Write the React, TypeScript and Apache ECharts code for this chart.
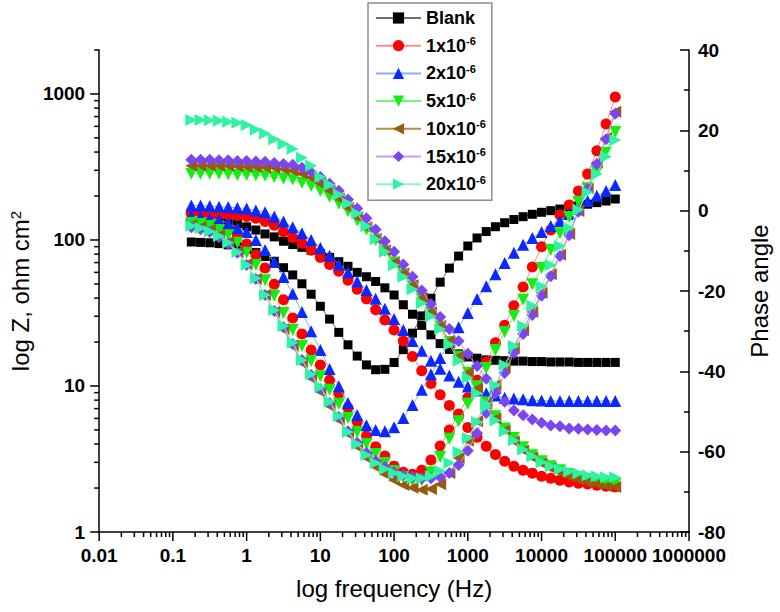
import React, { useEffect, useRef } from 'react';
import * as echarts from 'echarts';

const FONT = '"Liberation Sans", Arial, Helvetica, sans-serif';

// Frequencies (Hz)
const FREQ = [0.1778, 0.2371, 0.3162, 0.4217, 0.5623, 0.7499, 1, 1.334, 1.778, 2.371, 3.162, 4.217, 5.623, 7.499,
  10, 13.34, 17.78, 23.71, 31.62, 42.17, 56.23, 74.99, 100, 133.4, 177.8, 237.1, 316.2, 421.7, 562.3, 749.9,
  1000, 1334, 1778, 2371, 3162, 4217, 5623, 7499, 10000, 13340, 17780, 23710, 31620, 42170, 56230, 74990, 100000];

// |Z| (ohm cm2)
const Z_BLANK = [150, 148, 145, 141, 135, 129, 123, 117, 110, 105, 98, 93, 89, 85, 81, 76, 71, 66, 60, 56, 52, 47, 42, 36, 31, 26, 22.4, 19.5, 17.8, 16.6, 15.8, 15.5, 15.1, 15.0, 14.9, 14.8, 14.8, 14.7, 14.7, 14.6, 14.6, 14.6, 14.5, 14.5, 14.5, 14.5, 14.5];
const Z_1 = [152, 152, 151, 150, 148, 147, 145, 141, 134, 126, 114, 104, 95, 85, 76, 68, 61, 53, 46, 39.5, 33.3, 28.3, 24.2, 20.3, 15.9, 12.7, 10.4, 8.7, 7.35, 6.2, 5.2, 4.45, 3.86, 3.4, 3.05, 2.82, 2.65, 2.53, 2.41, 2.33, 2.26, 2.2, 2.16, 2.13, 2.09, 2.06, 2.03];
const Z_2 = [172, 172, 171, 169, 168, 166, 164, 159, 155, 145, 134, 122, 111, 100, 88, 78, 68, 60, 52, 45.5, 39.5, 33.8, 28.8, 24.2, 20.3, 17.4, 14.9, 13.1, 11.8, 10.7, 9.9, 9.3, 8.9, 8.6, 8.3, 8.2, 8.1, 8.0, 7.94, 7.9, 7.9, 7.9, 7.9, 7.9, 7.9, 7.9, 7.9];
const Z_5 = [284, 284, 284, 284, 282, 279, 279, 277, 275, 270, 264, 259, 247, 235, 217, 198, 178, 157, 136, 118, 100, 84, 70, 58, 48, 39.5, 31.6, 25.4, 20, 15.9, 12.3, 9.7, 7.7, 6.2, 5.12, 4.4, 3.8, 3.35, 3.05, 2.82, 2.65, 2.5, 2.37, 2.3, 2.23, 2.17, 2.13];
const Z_10 = [322, 322, 322, 322, 322, 320, 317, 317, 315, 312, 305, 298, 284, 267, 243, 217, 192, 166, 143, 122, 102, 85, 70, 59, 49, 40, 32, 25.8, 20.3, 15.9, 12.3, 9.6, 7.6, 6.0, 4.96, 4.17, 3.62, 3.24, 2.95, 2.73, 2.56, 2.41, 2.30, 2.19, 2.13, 2.06, 2.03];
const Z_15 = [354, 354, 354, 351, 351, 348, 348, 345, 343, 337, 332, 327, 312, 293, 270, 243, 217, 189, 164, 141, 118, 98, 83, 68, 56, 45, 36.5, 29.7, 24.6, 20.3, 16.6, 13.7, 11.2, 9.1, 7.8, 6.8, 6.3, 5.9, 5.6, 5.36, 5.3, 5.12, 5.1, 5.04, 5.0, 4.96, 4.96];
const Z_20 = [664, 664, 660, 655, 645, 635, 612, 570, 535, 490, 455, 421, 365, 322, 270, 239, 205, 178, 152, 124, 101, 83, 67, 56, 46, 37, 30, 24.6, 19.2, 14.9, 11.4, 8.9, 7.2, 5.8, 4.9, 4.24, 3.68, 3.3, 3.0, 2.82, 2.69, 2.6, 2.53, 2.45, 2.41, 2.37, 2.37];

// Phase angle (deg)
const P_BLANK = [-7.8, -7.9, -8.0, -8.2, -8.5, -9.0, -9.6, -10.4, -11.4, -12.6, -14.2, -16.0, -18.2, -20.8, -23.8, -27, -30.3, -33.4, -36.2, -38.4, -39.6, -39.5, -37.8, -34.6, -30.5, -26.2, -21.8, -17.8, -14.3, -11.3, -8.8, -6.8, -5.2, -4.0, -3.0, -2.2, -1.5, -0.9, -0.4, 0.0, 0.4, 0.8, 1.2, 1.6, 2.0, 2.4, 2.9];
const P_1 = [-2.3, -2.6, -3.1, -3.8, -4.8, -6.3, -8.3, -11.0, -14.3, -18.3, -22.2, -26.7, -30.7, -34.7, -38.4, -42.2, -45.6, -49.1, -52.6, -56.1, -58.8, -61.1, -63.6, -65.1, -65.6, -64.6, -62.1, -58.6, -54.6, -50.6, -46.6, -42.2, -37.7, -32.9, -28.5, -23.7, -19.0, -14.0, -9.0, -4.8, -1.1, 1.4, 4.9, 9.1, 14.9, 21.6, 28.3];
const P_2 = [-1.3, -1.6, -2.0, -2.3, -3.1, -4.3, -5.3, -7.3, -9.8, -12.8, -16.5, -20.7, -25.2, -30.0, -34.7, -39.4, -43.7, -47.9, -50.9, -53.4, -54.6, -54.9, -53.9, -51.6, -48.4, -44.6, -40.7, -36.7, -32.7, -29.0, -25.5, -22.0, -18.8, -15.8, -13.0, -10.5, -8.5, -6.8, -5.3, -3.8, -2.6, -0.8, 0.4, 2.4, 3.7, 4.9, 6.4];
const P_5 = [-3.1, -3.3, -3.8, -4.8, -6.1, -8.0, -10.5, -13.5, -17.3, -21.2, -25.5, -29.7, -33.7, -37.4, -41.2, -44.6, -48.1, -51.6, -55.1, -58.1, -60.6, -62.8, -64.8, -66.3, -67.3, -67.1, -65.1, -61.3, -56.8, -52.4, -48.1, -43.7, -39.2, -34.7, -30.2, -26.2, -22.2, -18.3, -14.3, -9.8, -5.6, -1.6, 2.2, 5.6, 9.6, 14.4, 19.6];
const P_10 = [-3.6, -4.1, -4.8, -6.1, -7.8, -10.3, -13.3, -17.0, -21.0, -25.2, -29.5, -33.7, -37.9, -41.7, -45.1, -48.6, -52.1, -55.6, -58.8, -61.6, -63.8, -65.6, -67.1, -68.3, -69.0, -69.5, -69.3, -68.1, -65.3, -61.6, -57.3, -52.4, -47.9, -43.4, -38.9, -34.2, -29.7, -25.2, -20.5, -15.8, -11.0, -5.8, -0.1, 5.6, 11.9, 18.1, 24.6];
const P_15 = [-4.1, -4.6, -5.3, -6.6, -8.3, -10.5, -13.5, -17.0, -21.0, -25.0, -29.0, -33.2, -37.2, -40.9, -44.4, -47.9, -51.4, -54.9, -57.8, -60.3, -62.3, -63.8, -65.1, -65.8, -66.3, -66.6, -66.6, -66.3, -65.3, -63.3, -59.8, -55.4, -50.4, -45.4, -40.4, -35.4, -30.7, -26.0, -21.2, -16.3, -11.3, -6.1, -0.3, 5.4, 11.6, 17.8, 24.1];
const P_20 = [-3.8, -4.3, -5.1, -6.3, -8.0, -10.3, -13.5, -16.8, -21.0, -24.7, -28.7, -32.9, -37.2, -40.7, -43.9, -47.6, -51.1, -55.1, -58.1, -60.8, -62.8, -64.3, -65.3, -66.1, -66.6, -66.6, -66.1, -64.8, -62.8, -60.1, -56.6, -52.6, -48.1, -43.4, -38.4, -33.7, -28.7, -23.7, -18.8, -13.5, -8.8, -4.3, 0.2, 4.6, 9.1, 13.4, 17.6];

const NAMES = ['Blank', '1x10-6', '2x10-6', '5x10-6', '10x10-6', '15x10-6', '20x10-6'];
const Z_SETS = [Z_BLANK, Z_1, Z_2, Z_5, Z_10, Z_15, Z_20];
const P_SETS = [P_BLANK, P_1, P_2, P_5, P_10, P_15, P_20];

// axis ticks
const X_DECADES = [0.01, 0.1, 1, 10, 100, 1000, 10000, 100000, 1000000];
const Y_DECADES = [1, 10, 100, 1000];
const MINOR_MULT = [2, 3, 4, 5, 6, 7, 8, 9];
const Y_TOP_MINOR = [2000];

const STYLES = [
  { color: '#000000', line: '#707070', symbol: 'rect', size: 9 },
  { color: '#ff0000', line: '#ff8a8a', symbol: 'circle', size: 11 },
  { color: '#0a28ff', line: '#86aefc', symbol: 'triangle', size: 12 },
  { color: '#14ee14', line: '#70fb70', symbol: 'path://M0,0L10,0L5,9Z', size: 12 },
  { color: '#9a5a0e', line: '#b98c48', symbol: 'path://M10,0L10,10L0,5Z', size: 12 },
  { color: '#7b46f0', line: '#b7a2f6', symbol: 'diamond', size: 12 },
  { color: '#2ff2a2', line: '#86f6c9', symbol: 'path://M0,0L0,10L10,5Z', size: 12 },
];

function isPow10(v: number) {
  const l = Math.log10(v);
  return Math.abs(l - Math.round(l)) < 1e-6;
}
function fmtNum(v: number) {
  return String(+Number(v).toPrecision(6));
}

export default function App() {
  const ref = useRef<HTMLDivElement>(null);
  useEffect(() => {
    if (!ref.current) return;
    const chart = echarts.init(ref.current, undefined, { renderer: 'svg' });

    const series: any[] = [];
    NAMES.forEach((name, i) => {
      const st = STYLES[i];
      const common = {
        name,
        type: 'line',
        symbol: st.symbol,
        symbolSize: st.size,
        showSymbol: true,
        itemStyle: { color: st.color },
        lineStyle: { color: st.line, width: 1 },
        emphasis: { disabled: true },
        z: 2 + i,
      };
      series.push({ ...common, xAxisIndex: 0, yAxisIndex: 0, data: FREQ.map((f, k) => [f, Z_SETS[i][k]]) });
      series.push({ ...common, xAxisIndex: 0, yAxisIndex: 1, data: FREQ.map((f, k) => [f, P_SETS[i][k]]) });
    });

    const xTicks: number[][] = [];
    X_DECADES.forEach((d, j) => {
      xTicks.push([d, 1, 9]);
      if (j < X_DECADES.length - 1) MINOR_MULT.forEach((m) => xTicks.push([d * m, 1, 5]));
    });
    const yTicks: number[][] = [];
    Y_DECADES.forEach((d, j) => {
      yTicks.push([0.01, d, 9]);
      if (j < Y_DECADES.length - 1) MINOR_MULT.forEach((m) => yTicks.push([0.01, d * m, 5]));
    });
    Y_TOP_MINOR.forEach((v) => yTicks.push([0.01, v, 5]));

    series.push({
      type: 'custom',
      silent: true,
      clip: false,
      z: 60,
      xAxisIndex: 0,
      yAxisIndex: 0,
      data: xTicks,
      renderItem: (_p: any, api: any) => {
        const p = api.coord([api.value(0), api.value(1)]);
        const len = api.value(2);
        return { type: 'line', shape: { x1: p[0], y1: p[1], x2: p[0], y2: p[1] + len }, style: { stroke: '#000', lineWidth: 1.5 } };
      },
    });
    series.push({
      type: 'custom',
      silent: true,
      clip: false,
      z: 60,
      xAxisIndex: 0,
      yAxisIndex: 0,
      data: yTicks,
      renderItem: (_p: any, api: any) => {
        const p = api.coord([api.value(0), api.value(1)]);
        const len = api.value(2);
        return { type: 'line', shape: { x1: p[0] - len, y1: p[1], x2: p[0], y2: p[1] }, style: { stroke: '#000', lineWidth: 1.5 } };
      },
    });

    const labelStyle = { fontFamily: FONT, fontSize: 19, fontWeight: 'bold', color: '#000' };
    const nameStyle = {
      fontFamily: FONT, fontSize: 24, color: '#000',
      rich: { sup: { fontFamily: FONT, fontSize: 15, color: '#000', verticalAlign: 'top', lineHeight: 14 } },
    };

    chart.setOption({
      animation: false,
      backgroundColor: '#ffffff',
      grid: { left: 90, right: 91, top: 50, bottom: 80 },
      legend: {
        data: NAMES,
        orient: 'vertical',
        left: 368,
        top: 3,
        padding: [6, 6, 7, 7],
        itemWidth: 45,
        itemHeight: 14,
        itemGap: 8.7,
        borderColor: '#8c8c8c',
        borderWidth: 1.5,
        backgroundColor: '#ffffff',
        selectedMode: false,
        formatter: (n: string) => (n === 'Blank' ? '{n|Blank}' : '{n|' + n.replace('-6', '') + '}{sup|-6}'),
        textStyle: {
          fontFamily: FONT, fontSize: 18, fontWeight: 'bold', color: '#000',
          rich: {
            n: { fontFamily: FONT, fontSize: 18, fontWeight: 'bold', color: '#000', lineHeight: 20 },
            sup: { fontFamily: FONT, fontSize: 11, fontWeight: 'bold', color: '#000', verticalAlign: 'top', lineHeight: 12 },
          },
        },
      },
      xAxis: {
        type: 'log',
        logBase: 10,
        min: 0.01,
        max: 1000000,
        axisLine: { show: true, onZero: false, lineStyle: { color: '#000', width: 1.5 } },
        axisTick: { show: false },
        splitLine: { show: false },
        axisLabel: { ...labelStyle, margin: 14, formatter: (v: number) => (isPow10(v) ? fmtNum(v) : '') },
        name: 'log frequency (Hz)',
        nameLocation: 'middle',
        nameGap: 44,
        nameTextStyle: nameStyle,
      },
      yAxis: [
        {
          type: 'log',
          logBase: 10,
          min: 1,
          max: 2000,
          position: 'left',
          axisLine: { show: true, lineStyle: { color: '#000', width: 1.5 } },
          axisTick: { show: false },
          splitLine: { show: false },
          axisLabel: { ...labelStyle, margin: 14, formatter: (v: number) => (isPow10(v) ? fmtNum(v) : '') },
          name: 'log Z, ohm cm{sup|2}',
          nameLocation: 'middle',
          nameRotate: 90,
          nameGap: 54,
          nameTextStyle: nameStyle,
        },
        {
          type: 'value',
          min: -80,
          max: 40,
          interval: 20,
          position: 'right',
          axisLine: { show: true, lineStyle: { color: '#000', width: 1.5 } },
          axisTick: { show: true, inside: true, length: 9, lineStyle: { color: '#000', width: 1.5 } },
          minorTick: { show: true, splitNumber: 2, length: 5, lineStyle: { color: '#000', width: 1.5 } },
          splitLine: { show: false },
          minorSplitLine: { show: false },
          axisLabel: { ...labelStyle, margin: 9 },
          name: 'Phase angle',
          nameLocation: 'middle',
          nameRotate: 90,
          nameGap: 58,
          nameTextStyle: nameStyle,
        },
      ],
      series,
    });

    return () => chart.dispose();
  }, []);

  return <div ref={ref} style={{ position: 'fixed', left: 0, top: 0, width: 780, height: 612, background: '#fff' }} />;
}
